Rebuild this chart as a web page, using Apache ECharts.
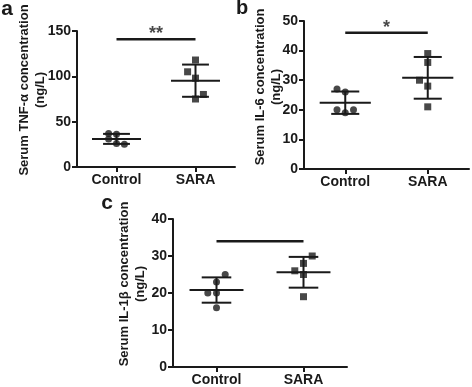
<!DOCTYPE html>
<html>
<head>
<meta charset="utf-8">
<script src="https://cdn.jsdelivr.net/npm/echarts@6/dist/echarts.min.js"></script>
<style>
html, body { margin: 0; padding: 0; background: #fff; }
#main { width: 472px; height: 387px; }
</style>
</head>
<body>
<div id="main"></div>
<script>
//分组
var groups = ['Control', 'SARA'];
//散点水平偏移(抖动)
var jitterCtrlA = [-0.1, 0, -0.1, 0, 0.1];
var jitterSaraA = [0, -0.1, 0, 0.1, 0];
var jitterCtrlB = [-0.1, 0, -0.1, 0.1, 0];
var jitterSaraB = [0, 0, -0.1, 0, 0];
var jitterCtrlC = [0.1, 0, -0.1, 0, 0];
var jitterSaraC = [0.1, 0, -0.1, 0, 0];
//a: TNF-α
var ctrlA = [37, 36, 31, 26, 25];
var saraA = [118, 105, 98, 80, 75];
//b: IL-6
var ctrlB = [27, 26, 20, 20, 19];
var saraB = [39, 36, 30, 28, 21];
//c: IL-1β
var ctrlC = [25, 23, 20, 20, 16];
var saraC = [30, 28, 26, 25, 19];
//y轴刻度
var yTicksA = [0, 50, 100, 150];
var yTicksB = [0, 10, 20, 30, 40, 50];
var yTicksC = [0, 10, 20, 30, 40];
//显著性标记线高度
var sigA = 141, sigB = 46, sigC = 34;

var FONT = 'Liberation Sans, Arial, sans-serif';
var INK = '#1a1a1a';

function meanSd(arr) {
	var m = 0;
	arr.forEach(function(v) { m += v; });
	m = m / arr.length;
	var s = 0;
	arr.forEach(function(v) { s += (v - m) * (v - m); });
	return [m, Math.sqrt(s / (arr.length - 1))];
}

function pts(vals, jit, pos) {
	return vals.map(function(v, i) { return [pos + jit[i], v]; });
}

var grids = [
	{ left: 77, top: 31, width: 158, height: 136 },
	{ left: 304, top: 21, width: 165, height: 148 },
	{ left: 173, top: 219, width: 174, height: 149 }
];
var yTicks = [yTicksA, yTicksB, yTicksC];

var xAxes = [];
var yAxes = [];
grids.forEach(function(g, i) {
	xAxes.push({
		type: 'value', gridIndex: i, min: 0.5, max: 2.5,
		splitLine: { show: false },
		axisLine: { lineStyle: { color: INK, width: 2 } },
		axisTick: { customValues: [1, 2], length: 5, lineStyle: { color: INK, width: 2 } },
		axisLabel: {
			customValues: [1, 2], margin: 6, color: INK, fontFamily: FONT,
			fontWeight: 'bold', fontSize: 14,
			formatter: function(v) { return groups[Math.round(v) - 1]; }
		}
	});
	var t = yTicks[i];
	yAxes.push({
		type: 'value', gridIndex: i, min: 0, max: t[t.length - 1], interval: t[1] - t[0],
		splitLine: { show: false },
		axisLine: { show: true, lineStyle: { color: INK, width: 2 } },
		axisTick: { show: true, length: 5, lineStyle: { color: INK, width: 2 } },
		axisLabel: { margin: 6, color: INK, fontFamily: FONT, fontWeight: 'bold', fontSize: 14 }
	});
});

var series = [];
var panels = [
	[ctrlA, jitterCtrlA, saraA, jitterSaraA, sigA, '**'],
	[ctrlB, jitterCtrlB, saraB, jitterSaraB, sigB, '*'],
	[ctrlC, jitterCtrlC, saraC, jitterSaraC, sigC, '']
];
panels.forEach(function(p, i) {
	series.push({
		type: 'scatter', xAxisIndex: i, yAxisIndex: i, symbol: 'circle', symbolSize: 7,
		itemStyle: { color: INK }, data: pts(p[0], p[1], 1), z: 5
	});
	series.push({
		type: 'scatter', xAxisIndex: i, yAxisIndex: i, symbol: 'rect', symbolSize: 7,
		itemStyle: { color: INK }, data: pts(p[2], p[3], 2), z: 5
	});
	//均值±标准差
	var stats = [meanSd(p[0]), meanSd(p[2])];
	series.push({
		type: 'custom', xAxisIndex: i, yAxisIndex: i, z: 4,
		data: [[1, stats[0][0], stats[0][1]], [2, stats[1][0], stats[1][1]]],
		renderItem: function(params, api) {
			var x = api.value(0), m = api.value(1), sd = api.value(2);
			var st = { stroke: INK, lineWidth: 2 };
			var seg = function(x1, y1, x2, y2) {
				var a = api.coord([x1, y1]), b = api.coord([x2, y2]);
				return { type: 'line', shape: { x1: a[0], y1: a[1], x2: b[0], y2: b[1] }, style: st };
			};
			return {
				type: 'group',
				children: [
					seg(x - 0.31, m, x + 0.31, m),
					seg(x - 0.17, m + sd, x + 0.17, m + sd),
					seg(x - 0.17, m - sd, x + 0.17, m - sd),
					seg(x, m - sd, x, m + sd)
				]
			};
		}
	});
	//显著性标记
	series.push({
		type: 'line', xAxisIndex: i, yAxisIndex: i, symbol: 'none', silent: true,
		lineStyle: { color: INK, width: 2.5 },
		data: [[1, p[4]], [2, p[4]]]
	});
	if (p[5]) {
		series.push({
			type: 'scatter', xAxisIndex: i, yAxisIndex: i, symbolSize: 0, silent: true,
			label: { show: true, position: 'top', distance: -4, formatter: p[5], color: INK, fontFamily: FONT, fontWeight: 'bold', fontSize: 18 },
			data: [[1.5, p[4]]]
		});
	}
});

var titleStyle = function(txt) {
	return { text: txt, fill: INK, font: 'bold 13px ' + FONT, align: 'center', verticalAlign: 'middle', lineHeight: 16 };
};
var graphic = [
	{ type: 'text', x: 7, y: 9, style: { text: 'a', fill: INK, font: 'bold 21px ' + FONT, align: 'center', verticalAlign: 'middle' } },
	{ type: 'text', x: 242, y: 8, style: { text: 'b', fill: INK, font: 'bold 20px ' + FONT, align: 'center', verticalAlign: 'middle' } },
	{ type: 'text', x: 107, y: 203, style: { text: 'c', fill: INK, font: 'bold 21px ' + FONT, align: 'center', verticalAlign: 'middle' } },
	{ type: 'text', x: 32, y: 90, rotation: Math.PI / 2, style: titleStyle('Serum TNF-\u03b1 concentration\n(ng/L)') },
	{ type: 'text', x: 268, y: 87, rotation: Math.PI / 2, style: titleStyle('Serum IL-6 concentration\n(ng/L)') },
	{ type: 'text', x: 132, y: 284, rotation: Math.PI / 2, style: titleStyle('Serum IL-1\u03b2 concentration\n(ng/L)') }
];

var chart = echarts.init(document.getElementById('main'));
chart.setOption({
	animation: false,
	backgroundColor: '#fff',
	grid: grids,
	xAxis: xAxes,
	yAxis: yAxes,
	series: series,
	graphic: graphic
});
</script>
</body>
</html>
